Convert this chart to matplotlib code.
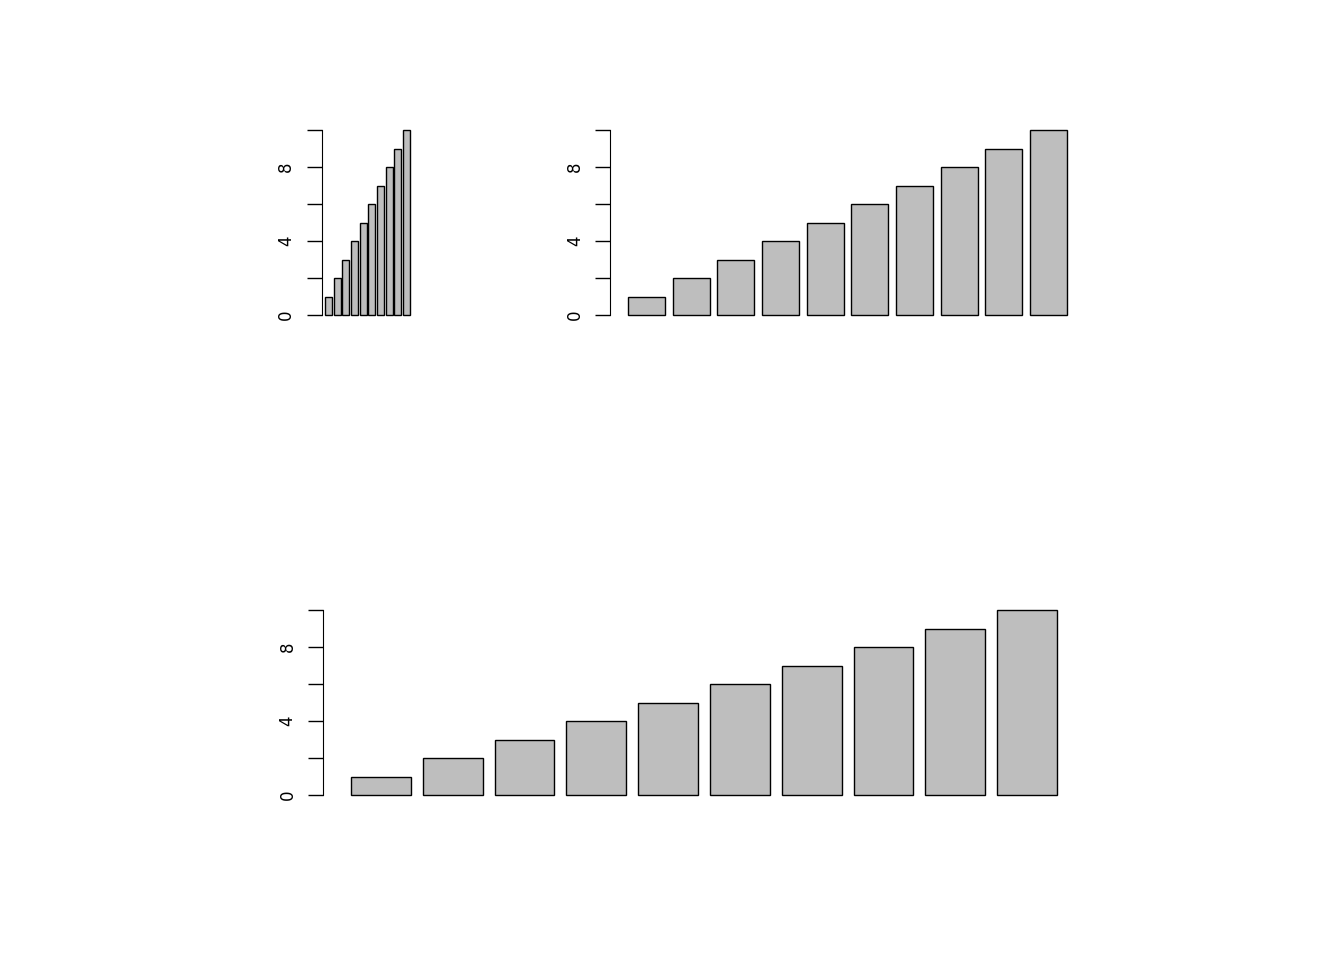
import matplotlib.pyplot as plt
import numpy as np

heights = [1, 2, 3, 4, 5, 6, 7, 8, 9, 10]
yticks = [0, 2, 4, 6, 8, 10]
ylabels = ['0', '', '4', '', '8', '']

W, H = 1344, 960
fig = plt.figure(figsize=(W / 100, H / 100), dpi=100)


def panel(left, right, y0, y10):
    # pixel box of the R plot region (4% padding on both axes)
    ppu = (y0 - y10) / 10.0
    top = y10 - 0.4 * ppu
    bottom = y0 + 0.4 * ppu
    ax = fig.add_axes([left / W, 1 - bottom / H, (right - left) / W, (bottom - top) / H])
    x = 0.2 + np.arange(len(heights)) * 1.2
    ax.bar(x, heights, width=1.0, align='edge', color='#bebebe',
           edgecolor='black', linewidth=1)
    ax.set_xlim(0.2 - 0.472, 12.0 + 0.472)
    ax.set_ylim(-0.4, 10.4)
    for s in ['top', 'right', 'bottom']:
        ax.spines[s].set_visible(False)
    ax.spines['left'].set_bounds(0, 10)
    ax.set_xticks([])
    ax.set_yticks(yticks)
    ax.set_yticklabels(ylabels, rotation=90, va='center', fontsize=12)
    ax.tick_params(axis='y', length=11, width=1, pad=8)
    return ax


panel(321.6, 413.4, 315, 130)
panel(610.4, 1084.6, 315, 130)
panel(322.8, 1085.2, 795, 610)

fig.savefig('out.png', dpi=100)
